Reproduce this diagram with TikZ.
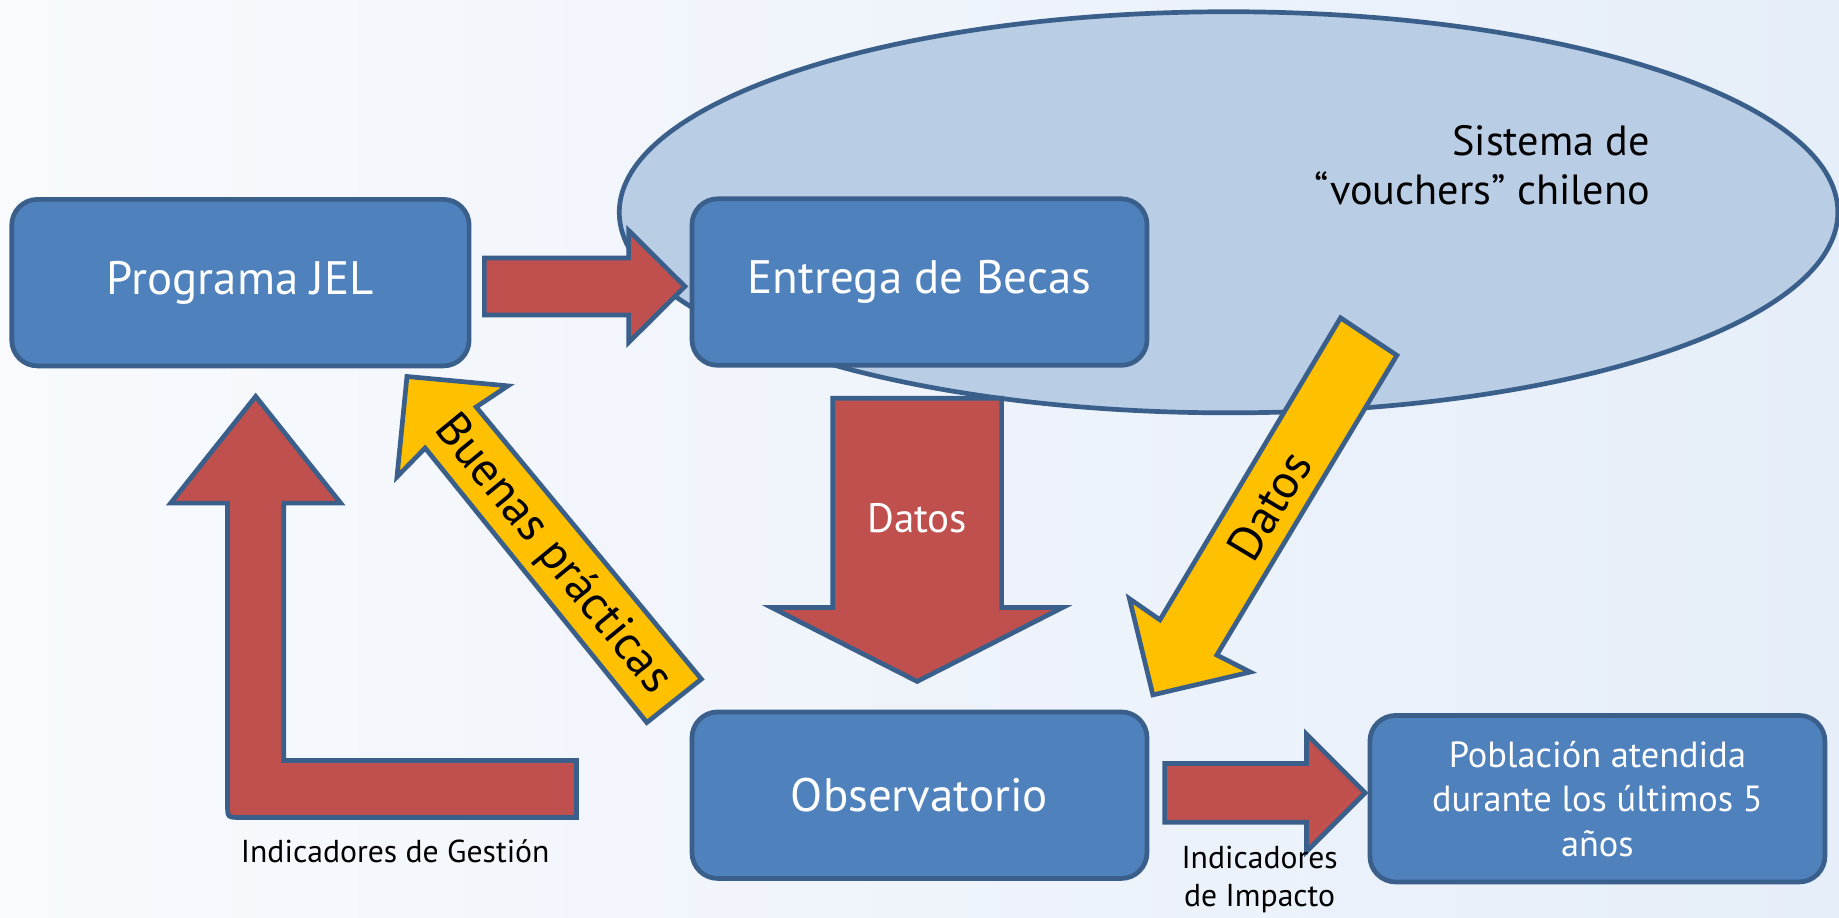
\documentclass[tikz,border=0pt]{standalone}
\usepackage{fontspec}
\setmainfont{PT Sans}
\usetikzlibrary{shapes.geometric}
\definecolor{boxblue}{HTML}{4F81BD}
\definecolor{edgeblue}{HTML}{3A5F8B}
\definecolor{arrred}{HTML}{C0504D}
\definecolor{arryel}{HTML}{FFC000}
\definecolor{ellfill}{HTML}{B9CDE5}
\definecolor{bgL}{HTML}{F8FAFD}
\definecolor{bgR}{HTML}{E6EEF9}
\begin{document}
\begin{tikzpicture}[x=1pt,y=-1pt,
  box/.style={draw=edgeblue, fill=boxblue, line width=4pt, rounded corners=22pt,
    text=white, inner sep=0pt, minimum width=388pt, minimum height=142pt, align=center},
  redarrow/.style={draw=edgeblue, fill=arrred, line width=4pt, line join=miter},
  yelarrow/.style={draw=edgeblue, fill=arryel, line width=4pt, line join=miter},
  bigtext/.style={font=\fontsize{40}{46}\selectfont},
  lbl/.style={font=\fontsize{27}{32}\selectfont, text=black, inner sep=0pt, align=center},
]
\fill[left color=bgL, right color=bgR] (0,0) rectangle (1568,782);
\useasboundingbox (0,0) rectangle (1568,782);

% ellipse: Sistema de vouchers
\node[ellipse, draw=edgeblue, fill=ellfill, line width=4pt, inner sep=0pt,
      minimum width=1039pt, minimum height=342pt] (sys) at (1047.5,181) {};
\node[anchor=east, align=right, inner sep=0pt, font=\fontsize{36}{42}\selectfont] (systxt)
  at (1407,141) {Sistema de\\“vouchers” chileno};

% boxes
\node[box, bigtext, minimum width=390pt] (prog) at (205,241) {Programa JEL};
\node[box, bigtext] (becas) at (784,240.5) {Entrega de Becas};
\node[box, bigtext] (obs) at (784,678) {Observatorio};
\node[box, font=\fontsize{31}{38}\selectfont] (pob) at (1362,681)
  {Población atendida\\durante los últimos 5\\años};

% red arrow Programa JEL -> Entrega de Becas
\draw[redarrow] (413,220) -- (536,220) -- (536,196.5) -- (584,244.25) -- (536,292)
  -- (536,268.5) -- (413,268.5) -- cycle;

% red arrow Entrega de Becas -> Observatorio (Datos)
\draw[redarrow] (710,339.5) -- (854,339.5) -- (854,518) -- (906,518) -- (782,581)
  -- (658,518) -- (710,518) -- cycle;
\node[text=white, inner sep=0pt, font=\fontsize{35}{40}\selectfont] (datosred) at (782,442) {Datos};

% red L arrow Observatorio -> Programa JEL (Indicadores de Gestion)
\draw[redarrow] (218,338) -- (290.5,429) -- (242,429) -- (242,648.5) -- (491.5,648.5)
  -- (491.5,697) -- (205,697) .. controls (194,697) .. (194,686) -- (194,429)
  -- (145.5,429) -- cycle;
\node[lbl, anchor=base] (gest) at (337,735) {Indicadores de Gestión};

% red arrow Observatorio -> Poblacion (Indicadores de Impacto)
\draw[redarrow] (993,651) -- (1114,651) -- (1114,626) -- (1164,676) -- (1114,726)
  -- (1114,701) -- (993,701) -- cycle;
\node[lbl] (imp) at (1074,750) {Indicadores\\de Impacto};

% yellow arrow Sistema -> Observatorio (Datos)
\draw[yelarrow] (1143,271) -- (1191,303) -- (1037.5,558.5) -- (1066,573) -- (983,592.5)
  -- (963,510.5) -- (989,528.5) -- cycle;
\node[rotate=59, inner sep=0pt, font=\fontsize{41}{46}\selectfont] (datosyel) at (1082,431) {Datos};

% yellow arrow Observatorio -> Programa JEL (Buenas practicas)
\draw[yelarrow] (347,321) -- (433,329) -- (406,347) -- (598,579) -- (551.5,616)
  -- (362.5,382) -- (338.5,406.5) -- cycle;
\node[rotate=-50.7, inner sep=0pt, font=\fontsize{41}{46}\selectfont] (buenas) at (471,473) {Buenas prácticas};
\end{tikzpicture}
\end{document}
